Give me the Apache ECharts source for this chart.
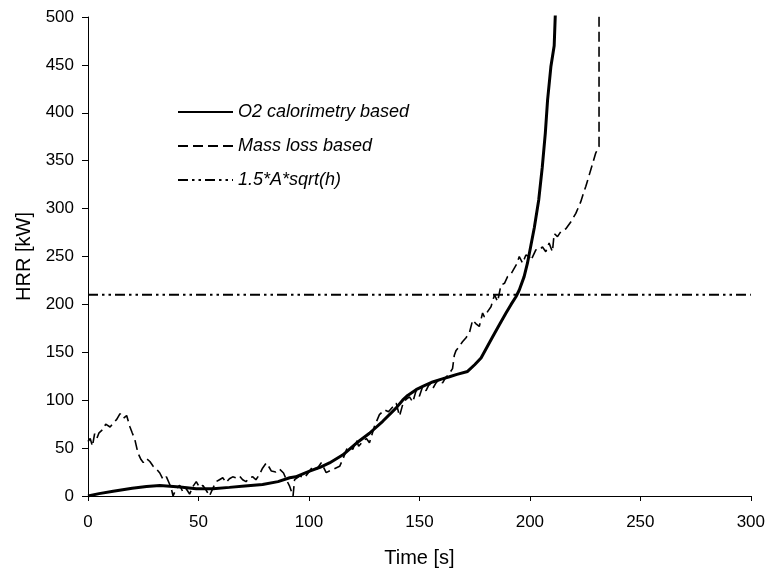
<!DOCTYPE html>
<html>
<head>
<meta charset="utf-8">
<script src="https://cdn.jsdelivr.net/npm/echarts@6/dist/echarts.min.js"></script>
<style>html,body{margin:0;padding:0;background:#fff}#c{width:768px;height:574px}</style>
</head>
<body>
<div id="c"></div>
<script>
// Time [s] and HRR [kW] pairs
const o2Time = [0,5,11.4,20,26.5,32.5,41.6,49,56.6,64,71,79,86,91.3,94,100.3,105,109.3,115.4,121.4,127.4,133.4,139.5,142.4,144.7,148.5,152,156,160,163.6,167,171.8,175,177.9,180.5,183.1,186,189.2,191.5,193.7,195.2,197.4,198.9,200.5,202,204,205.6,207,208,209.5,211,211.5,212];
const o2Hrr  = [0,2.5,5,8,10,11,9.5,7.5,7.5,9,10.5,12,15,19,20,26,30,34.5,43,55,65.5,78,92,100,105,111,115,119,122,124.5,127,130,137,144,155,166,178,191,200,208,215,229,243,262,280,309,343,379,413,448,470,502,520];

const massTime = [0,1,2,3,4,5,7,8,10,11.4,13,14.5,16,17.5,19,20,21.2,22.6,24,25,26.5,28,29.5,31,32.5,34,35.5,37,38,38.5,40,41.5,43,44.6,46,47.5,49,50.5,52,53.5,55,56.5,58,59.5,61,62.5,64,65.5,67,68.5,70,71.5,73,74.6,76,77.5,79,80.7,82,83,85,86.7,88.5,89.8,91.3,92.8,93.5,95.8,98,100,101.8,103.5,105.6,107.8,110.8,113.9,115.3,117.6,119.9,121.4,122.5,124.4,126,127.4,129.7,131.9,134.2,136,137.9,139.5,141,142.5,144,145.5,147,148.5,150,151.4,153,154.5,156,157.5,159,160.5,162,163.6,165,165.8,166.6,168,169.5,171,172.6,174.1,175.5,177.1,178.6,179.4,181,182.4,184,185.4,186.9,188.5,189.9,191.5,192.9,194,195.2,196.7,198.2,199.7,200.5,202.7,204.2,205.7,207.2,208.7,210.2,211,212.5,214,216.3,218.5,220.8,223,224.5,225.3,227.5,229.8,231.3,231.3];
const massHrr  = [57,60,52,65,60,66,70,75,72,76,80,86,81,84,72,66,59,45,38,35,39,36,31,28,24,17,20,12,5,0,8,11,4,7,2,10,15,9,11,6,0,8,15,17,19,14,18,20,19,21,17,15,19,20,17,22,29,34.5,30,26,25,28,24,17,10,0,17,20.8,19,25,31,28,34.8,24.4,27.8,31,38,52,48.7,59,52,57,60,55.6,73,85,90,88,93,97,83.5,96,101,103.5,98,110,104,114,110,117,112,118,122,118,124,128,133,147,152,156,161,165,170,183.7,180,177,191,187,193,197.6,210,203,220,222,229,232,237.7,242,250,243,251.6,250,246,257,256.8,260,255,264,255,274,270.7,276,279,286,295,307,318,323,340,358,365,520];

const limitTime = [0,300];
const limitHrr  = [210,210];

const xTicks = {min:0, max:300, interval:50};
const yTicks = {min:0, max:500, interval:50};

const zip = (a,b) => a.map((v,i)=>[v,b[i]]);
const FONT = 'Liberation Sans, Arial, sans-serif';
const hideSym = {opacity:0};

const chart = echarts.init(document.getElementById('c'), null, {renderer:'canvas'});
chart.setOption({
  animation:false,
  backgroundColor:'#fff',
  grid:{left:88, right:16, top:17, bottom:78},
  legend:{
    orient:'vertical', left:177, top:103, padding:0, itemGap:16, itemWidth:55, itemHeight:18,
    textStyle:{fontFamily:FONT, fontSize:18, fontStyle:'italic', color:'#000'},
    itemStyle:hideSym,
    data:[
      {name:'O2 calorimetry based', itemStyle:hideSym},
      {name:'Mass loss based', itemStyle:hideSym},
      {name:'1.5*A*sqrt(h)', itemStyle:hideSym}
    ]
  },
  xAxis:{
    type:'value', min:xTicks.min, max:xTicks.max, interval:xTicks.interval,
    name:'Time [s]', nameLocation:'middle', nameGap:52,
    nameTextStyle:{fontFamily:FONT, fontSize:20, color:'#000'},
    axisLine:{onZero:false, lineStyle:{color:'#000', width:1}},
    axisTick:{inside:false, length:5, lineStyle:{color:'#000'}},
    axisLabel:{fontFamily:FONT, fontSize:17, color:'#000', margin:18},
    splitLine:{show:false}
  },
  yAxis:{
    type:'value', min:yTicks.min, max:yTicks.max, interval:yTicks.interval,
    name:'HRR [kW]', nameLocation:'middle', nameGap:47,
    nameTextStyle:{fontFamily:FONT, fontSize:20, color:'#000'},
    axisLine:{show:true, lineStyle:{color:'#000', width:1}},
    axisTick:{show:true, inside:false, length:6, lineStyle:{color:'#000'}},
    axisLabel:{fontFamily:FONT, fontSize:17, color:'#000', margin:14},
    splitLine:{show:false}
  },
  series:[
    {name:'O2 calorimetry based', type:'line', data:zip(o2Time,o2Hrr), symbol:'none', clip:true,
     lineStyle:{color:'#000', width:3}, itemStyle:{color:'#000'}, z:5},
    {name:'Mass loss based', type:'line', data:zip(massTime,massHrr), symbol:'none', clip:true,
     lineStyle:{color:'#000', width:1.6, type:[10,5]}, itemStyle:{color:'#000'}, z:4},
    {name:'1.5*A*sqrt(h)', type:'line', data:zip(limitTime,limitHrr), symbol:'none', clip:true,
     lineStyle:{color:'#000', width:2, type:[10,4,2.5,4,2.5,4]}, itemStyle:{color:'#000'}, z:3}
  ]
});
</script>
</body>
</html>
